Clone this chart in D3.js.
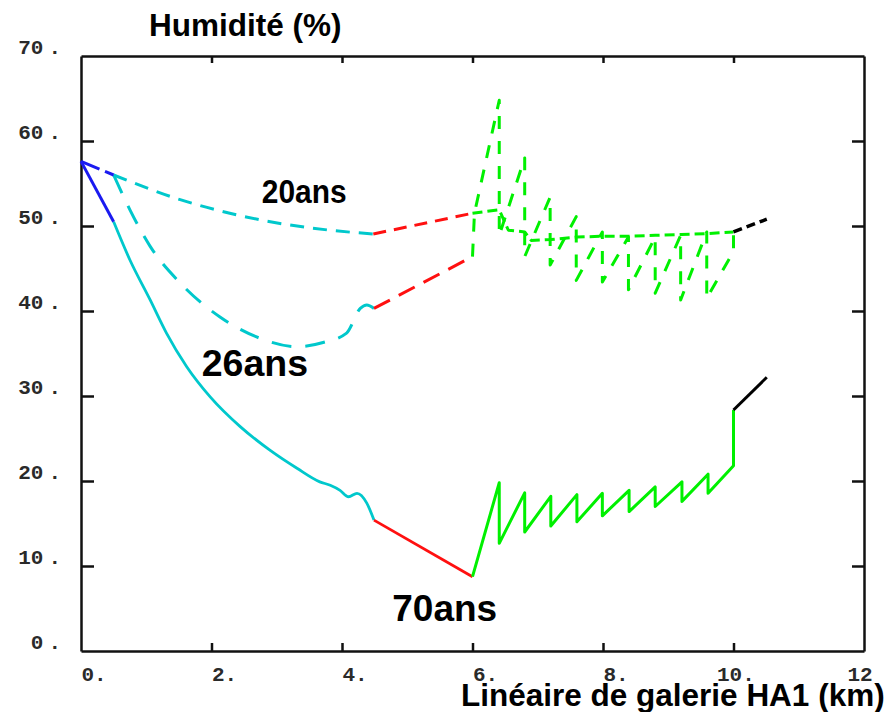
<!DOCTYPE html>
<html>
<head>
<meta charset="utf-8">
<script src="https://cdn.jsdelivr.net/npm/d3@7"></script>
<style>
  body { margin: 0; background: #fff; }
  svg { display: block; }
  .tick-label { font-family: "Liberation Mono", "DejaVu Sans Mono", monospace; font-weight: bold; font-size: 21px; fill: #2a2a2a; }
  .title { font-family: "Liberation Sans", Arial, sans-serif; font-weight: bold; fill: #000; }
</style>
</head>
<body>
<div id="chart"></div>
<script>
////////////////////////////////////////////////////////////////////
////////////////////////////  Data  ///////////////////////////////
const xTicks = [0, 2, 4, 6, 8, 10, 12];
const yTicks = [0, 10, 20, 30, 40, 50, 60, 70];

// 70ans (solid)
const blue70 = [[0, 57.6], [0.5, 50.5]];
const cyan70 = [[0.5, 50.5], [0.75, 46.0], [1.06, 41.3], [1.31, 37.4], [1.62, 33.45], [1.98, 29.9], [2.44, 26.4], [2.9, 23.6], [3.31, 21.5], [3.66, 19.9], [3.82, 19.5], [3.97, 18.9], [4.1, 18.15], [4.23, 18.55], [4.38, 17.4], [4.49, 15.4]];
const red70 = [[4.49, 15.4], [6.0, 8.74]];
const green70 = [[6.0, 8.74], [6.41, 19.8], [6.41, 12.67], [6.8, 18.6], [6.8, 14.0], [7.2, 18.2], [7.2, 14.7], [7.6, 18.4], [7.6, 15.2], [7.99, 18.55], [7.99, 15.9], [8.4, 18.9], [8.4, 16.4], [8.8, 19.3], [8.8, 17.0], [9.21, 19.9], [9.21, 17.6], [9.61, 20.8], [9.61, 18.55], [10.0, 21.8], [10.0, 28.35]];
const black70 = [[10.0, 28.35], [10.51, 32.2]];

// 20ans + 26ans share the first part
const blueDash = [[0, 57.6], [0.5, 56.0]];

// 26ans (long dashes)
const cyan26 = [[0.5, 56.0], [0.75, 51.9], [1.06, 47.6], [1.52, 43.3], [2.13, 39.3], [2.74, 36.8], [3.31, 35.8], [3.71, 36.3], [4.07, 37.4], [4.28, 40.3], [4.38, 40.7], [4.49, 40.3]];
const red26 = [[4.49, 40.3], [6.0, 46.4]];
const green26 = [[6.0, 46.4], [6.03, 51.5], [6.41, 64.8], [6.41, 48.9], [6.8, 58.0], [6.8, 46.4], [7.19, 53.4], [7.19, 45.4], [7.59, 51.1], [7.59, 43.6], [7.99, 49.3], [7.99, 43.4], [8.39, 48.7], [8.39, 42.5], [8.8, 48.7], [8.8, 42.1], [9.19, 48.9], [9.19, 41.3], [9.59, 49.3], [9.59, 41.5], [10.0, 47.0], [10.0, 49.3]];

// 20ans (short dashes)
const cyan20 = [[0.5, 56.0], [1.52, 53.1], [2.28, 51.5], [3.05, 50.3], [3.82, 49.5], [4.48, 49.06]];
const red20 = [[4.48, 49.06], [6.0, 51.5]];
const green20 = [[6.0, 51.5], [6.41, 51.9], [6.55, 49.5], [6.8, 49.3], [6.9, 48.3], [7.2, 48.4], [7.6, 48.7], [8.0, 48.8], [8.4, 48.8], [8.8, 48.9], [9.2, 49.0], [9.6, 49.1], [10.0, 49.3]];
const black20 = [[10.0, 49.3], [10.51, 50.8]];

const annotations = [
  { text: "20ans", x: 2.77, y: 52.7, size: 34, sx: 0.88 },
  { text: "26ans", x: 1.85, y: 32.3, size: 37.5, sx: 1 },
  { text: "70ans", x: 4.77, y: 3.5, size: 37, sx: 1 },
];

////////////////////////////////////////////////////////////////////
////////////////////////////  Init  ///////////////////////////////
const width = 890;
const height = 712;
const margin = { top: 56, right: 26, bottom: 61, left: 81 };

const svg = d3
  .select("#chart")
  .append("svg")
  .attr("width", width)
  .attr("height", height)
  .style("background", "#fff");

const x = d3.scaleLinear().domain([0, 12]).range([margin.left, width - margin.right]);
const y = d3.scaleLinear().domain([0, 70]).range([height - margin.bottom, margin.top]);

const cyan = "#00c8cc";
const green = "#00f000";

// series styles built from the arrays above
const series = [
  { data: cyan26, color: cyan, dash: "20,14", w: 3, curve: d3.curveMonotoneX },
  { data: cyan20, color: cyan, dash: "14,9", w: 3, curve: d3.curveMonotoneX },
  { data: cyan70, color: cyan, dash: null, w: 2.8, curve: d3.curveMonotoneX },
  { data: blueDash, color: "#1a1af0", dash: "20,6", w: 3, curve: d3.curveLinear },
  { data: blue70, color: "#1a1af0", dash: null, w: 3, curve: d3.curveLinear },
  { data: red20, color: "#ff1010", dash: "13,8", w: 3, curve: d3.curveLinear },
  { data: red26, color: "#ff1010", dash: "18,10", w: 3, curve: d3.curveLinear },
  { data: red70, color: "#ff1010", dash: null, w: 2.8, curve: d3.curveLinear },
  { data: green20, color: green, dash: "10,5", w: 3, curve: d3.curveLinear },
  { data: green26, color: green, dash: "13,12", w: 3, curve: d3.curveLinear },
  { data: green70, color: green, dash: null, w: 3, curve: d3.curveLinear },
  { data: black20, color: "#000", dash: "9,5", w: 3.5, curve: d3.curveLinear },
  { data: black70, color: "#000", dash: null, w: 3, curve: d3.curveLinear },
];

////////////////////////////////////////////////////////////////////
////////////////////////////  Axes  ///////////////////////////////
const styleAxis = (g) => {
  g.selectAll(".domain").attr("stroke", "#111").attr("stroke-width", 2.5);
  g.selectAll(".tick line").attr("stroke", "#111").attr("stroke-width", 2.5);
};

// bottom
const xAxis = svg
  .append("g")
  .attr("transform", `translate(0,${height - margin.bottom})`)
  .call(
    d3.axisBottom(x).tickValues(xTicks).tickSizeInner(-8).tickSizeOuter(0).tickPadding(15)
      .tickFormat((d) => (d === 12 ? "12" : d + "."))
  )
  .call(styleAxis);
xAxis.selectAll(".tick line").filter((d) => d === 0 || d === 12).remove();
xAxis
  .selectAll("text")
  .attr("class", "tick-label")
  .attr("text-anchor", "start")
  .attr("fill", null)
  .attr("font-size", null)
  .attr("font-family", null)
  .attr("dx", (d) => (d >= 10 ? -17 : 0));

// top
svg
  .append("g")
  .attr("transform", `translate(0,${margin.top})`)
  .call(d3.axisTop(x).tickValues([2, 4, 6, 8, 10]).tickSizeInner(-7).tickSizeOuter(0).tickFormat(""))
  .call(styleAxis);

// left
const yAxis = svg
  .append("g")
  .attr("transform", `translate(${margin.left},0)`)
  .call(d3.axisLeft(y).tickValues(yTicks).tickSizeInner(-13).tickSizeOuter(0).tickPadding(20).tickFormat(""))
  .call(styleAxis);
yAxis.selectAll(".tick line").filter((d) => d === 0 || d === 70).remove();
yAxis
  .selectAll(".tick text")
  .attr("class", "tick-label")
  .attr("fill", null)
  .attr("font-size", null)
  .attr("font-family", null)
  .attr("dy", "-0.12em")
  .each(function (d) {
    const t = d3.select(this);
    t.append("tspan").text(d);
    t.append("tspan").attr("dx", 5).text(".");
  });

// right
svg
  .append("g")
  .attr("transform", `translate(${width - margin.right},0)`)
  .call(d3.axisRight(y).tickValues([10, 20, 30, 40, 50, 60]).tickSizeInner(-12).tickSizeOuter(0).tickFormat(""))
  .call(styleAxis);

////////////////////////////////////////////////////////////////////
////////////////////////////  Lines  //////////////////////////////
const line = d3
  .line()
  .x((d) => x(d[0]))
  .y((d) => y(d[1]));

svg
  .append("g")
  .selectAll("path")
  .data(series)
  .join("path")
  .attr("d", (s) => line.curve(s.curve)(s.data))
  .attr("fill", "none")
  .attr("stroke", (s) => s.color)
  .attr("stroke-width", (s) => s.w)
  .attr("stroke-dasharray", (s) => s.dash)
  .attr("stroke-linejoin", "round");

////////////////////////////////////////////////////////////////////
////////////////////////////  Texts  //////////////////////////////
svg
  .selectAll(".annot")
  .data(annotations)
  .join("text")
  .attr("class", "title annot")
  .attr("transform", (d) => `translate(${x(d.x)},${y(d.y)}) scale(${d.sx},1)`)
  .attr("font-size", (d) => d.size)
  .text((d) => d.text);

svg
  .append("text")
  .attr("class", "title")
  .attr("x", 149)
  .attr("y", 36)
  .attr("font-size", 31.5)
  .text("Humidité (%)");

svg
  .append("text")
  .attr("class", "title")
  .attr("x", 461)
  .attr("y", 706)
  .attr("font-size", 31.5)
  .text("Linéaire de galerie HA1 (km)");
</script>
</body>
</html>
